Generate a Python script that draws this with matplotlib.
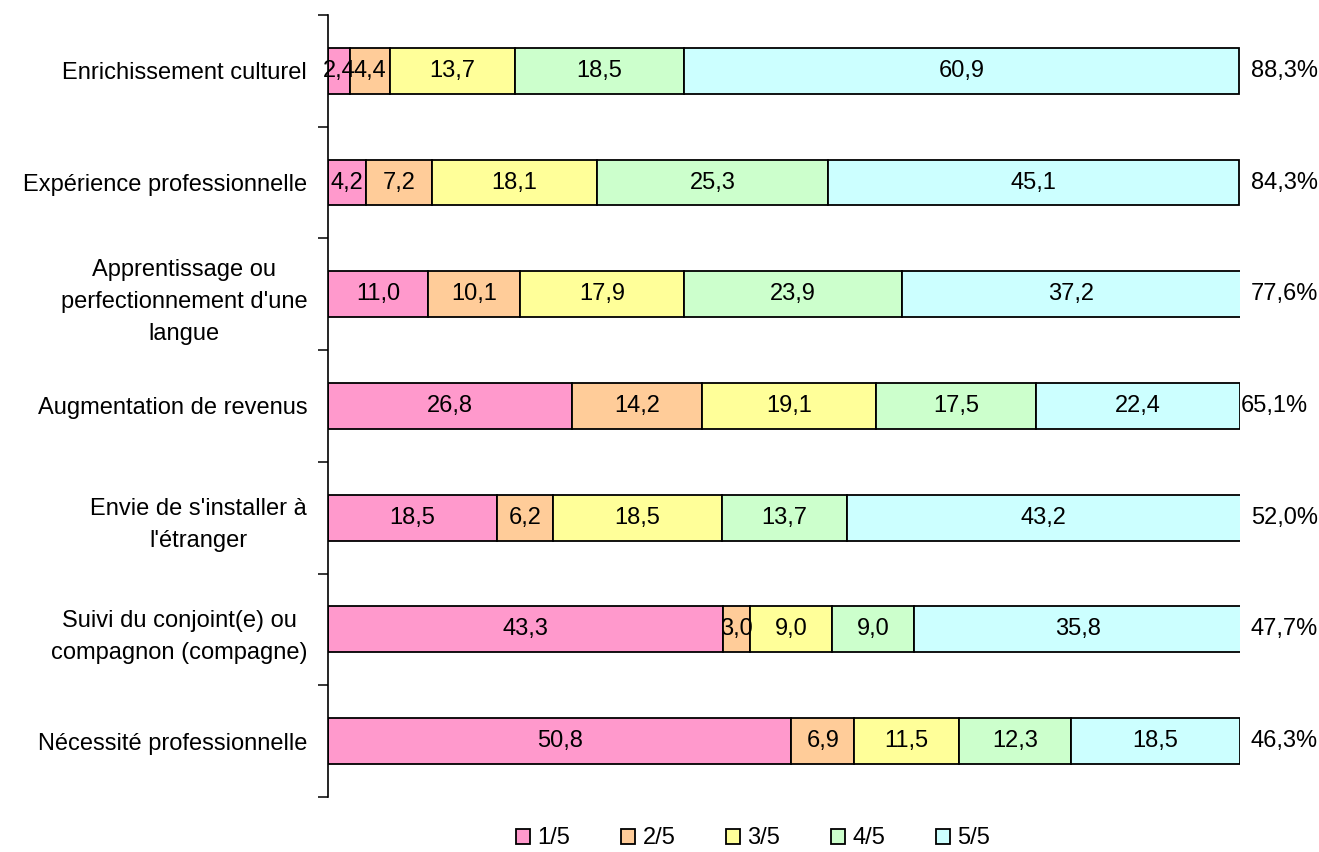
import numpy as np
import matplotlib.pyplot as plt

plt.rcParams['font.family'] = ['Liberation Sans', 'DejaVu Sans']

# données (de haut en bas)
categories = [
    "Enrichissement culturel",
    "Expérience professionnelle",
    "Apprentissage ou\nperfectionnement d'une\nlangue",
    "Augmentation de revenus",
    "Envie de s'installer à\nl'étranger",
    "Suivi du conjoint(e) ou\ncompagnon (compagne)",
    "Nécessité professionnelle",
]
series_names = ["1/5", "2/5", "3/5", "4/5", "5/5"]
note_1 = [2.4, 4.2, 11.0, 26.8, 18.5, 43.3, 50.8]
note_2 = [4.4, 7.2, 10.1, 14.2, 6.2, 3.0, 6.9]
note_3 = [13.7, 18.1, 17.9, 19.1, 18.5, 9.0, 11.5]
note_4 = [18.5, 25.3, 23.9, 17.5, 13.7, 9.0, 12.3]
note_5 = [60.9, 45.1, 37.2, 22.4, 43.2, 35.8, 18.5]
totals = ["88,3%", "84,3%", "77,6%", "65,1%", "52,0%", "47,7%", "46,3%"]
colors = ["#FF99CC", "#FFCC99", "#FFFF99", "#CCFFCC", "#CCFFFF"]

series = [note_1, note_2, note_3, note_4, note_5]
FS = 17

fig = plt.figure(figsize=(13.19, 8.52), dpi=100)
ax = fig.add_axes([0.2487, 0.0646, 0.6913, 0.9178])

n = len(categories)
y = np.arange(n)[::-1]  # premier en haut
left = np.zeros(n)
for vals, name, col in zip(series, series_names, colors):
    vals = np.array(vals)
    ax.barh(y, vals, left=left, height=0.41, color=col, edgecolor='black',
            linewidth=1.3, label=name)
    for yi, l, v in zip(y, left, vals):
        ax.text(l + v / 2, yi, f"{v:.1f}".replace('.', ','), ha='center',
                va='center', fontsize=FS)
    left += vals

# pourcentages à droite
for yi, t in zip(y, totals):
    xpos = 100.1 if t == "65,1%" else 101.2
    ax.text(xpos, yi, t, ha='left', va='center', fontsize=FS)

ax.set_xlim(0, 100)
ax.set_ylim(-0.5, n - 0.5)
ax.set_yticks(y)
ax.set_yticklabels(categories, fontsize=FS, multialignment='center',
                   linespacing=1.6)
ax.tick_params(axis='y', which='major', length=0, pad=15)
ax.set_yticks(np.arange(n + 1) - 0.5, minor=True)
ax.tick_params(axis='y', which='minor', length=7, width=1.1, direction='out')
ax.set_xticks([])
for s in ['top', 'right', 'bottom']:
    ax.spines[s].set_visible(False)
ax.spines['left'].set_linewidth(1.2)

fig.legend(loc='lower center', ncol=5, frameon=False, fontsize=FS,
           bbox_to_anchor=(0.571, -0.022), handlelength=0.6, handleheight=0.6,
           handletextpad=0.3, columnspacing=2.15)

fig.savefig('out.png', dpi=100)
